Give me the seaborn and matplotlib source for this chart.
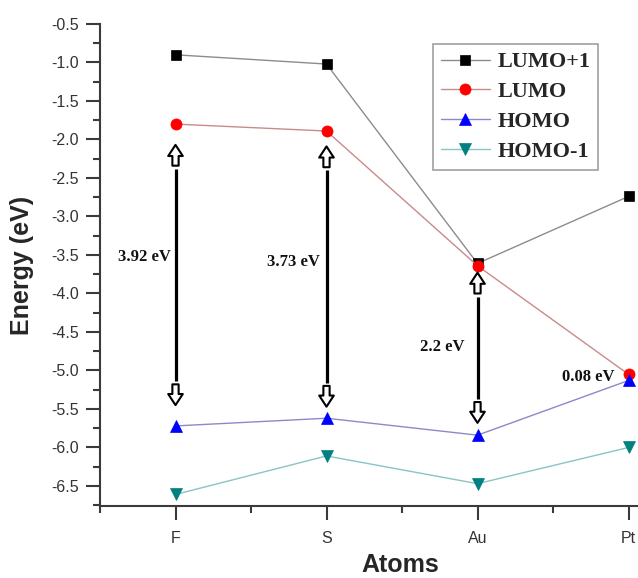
import numpy as np
import pandas as pd
import matplotlib
matplotlib.use("Agg")
import matplotlib.pyplot as plt
from matplotlib.ticker import MultipleLocator
import seaborn as sns

# ---- data ----
atoms = ["F", "S", "Au", "Pt"]
lumo_plus1 = [-0.90, -1.02, -3.61, -2.74]
lumo = [-1.80, -1.89, -3.64, -5.05]
homo = [-5.72, -5.62, -5.84, -5.13]
homo_minus1 = [-6.61, -6.11, -6.47, -6.00]
gap_labels = ["3.92 eV", "3.73 eV", "2.2 eV", "0.08 eV"]
gap_label_y = [-3.53, -3.59, -4.69, -5.08]
arrow_atoms = ["F", "S", "Au"]
arrow_up_tips = [-2.07, -2.09, -3.73]
arrow_down_tips = [-5.45, -5.47, -5.68]
y_ticks = [-0.5, -1.0, -1.5, -2.0, -2.5, -3.0, -3.5, -4.0, -4.5, -5.0, -5.5, -6.0, -6.5]

series = [
    ("LUMO+1", lumo_plus1, "s", "#000000", "#8c8c8c", 7),
    ("LUMO", lumo, "o", "#ff0000", "#c98a8a", 8),
    ("HOMO", homo, "^", "#0000ff", "#8a8ac8", 8.5),
    ("HOMO-1", homo_minus1, "v", "#008080", "#8ac4c4", 8.5),
]

sns.set_style("ticks")
plt.rcParams["font.family"] = ["Liberation Sans", "DejaVu Sans"]

fig = plt.figure(figsize=(6.38, 5.78), dpi=100)
ax_left, ax_bottom = 100 / 638, (578 - 506) / 578
ax_w, ax_h = 604 / 638, (506 - 24) / 578
ax = fig.add_axes([ax_left, ax_bottom, ax_w, ax_h])

for name, vals, mk, mcol, lcol, ms in series:
    df = pd.DataFrame({"Atoms": atoms, "Energy": vals})
    sns.lineplot(data=df, x="Atoms", y="Energy", ax=ax, sort=False,
                 color=lcol, lw=1.0, marker=mk, markersize=ms,
                 markerfacecolor=mcol, markeredgecolor=mcol,
                 markeredgewidth=0.5, label=name, zorder=3)

pos = {a: i for i, a in enumerate(atoms)}
head = 0.27
arrow_style = "simple,head_length=0.8,head_width=1.05,tail_width=0.45"
for a, up, dn in zip(arrow_atoms, arrow_up_tips, arrow_down_tips):
    x = pos[a]
    ax.annotate("", xy=(x, up), xytext=(x, up - head),
                arrowprops=dict(arrowstyle=arrow_style, fc="white", ec="black",
                                lw=1.5, shrinkA=0, shrinkB=0, mutation_scale=10),
                zorder=4)
    ax.annotate("", xy=(x, dn), xytext=(x, dn + head),
                arrowprops=dict(arrowstyle=arrow_style, fc="white", ec="black",
                                lw=1.5, shrinkA=0, shrinkB=0, mutation_scale=10),
                zorder=4)
    ax.plot([x, x], [up - head - 0.04, dn + head + 0.04], color="black",
            lw=2.3, solid_capstyle="butt", zorder=4)

label_dx = [-0.03, -0.046, -0.086, -0.093]
for i, (txt, yv) in enumerate(zip(gap_labels, gap_label_y)):
    ax.text(i + label_dx[i], yv, txt, ha="right", va="center",
            fontsize=12, fontweight="bold",
            family=["Liberation Serif", "DejaVu Serif"], color="#111111")

ax.set_xlim(-0.5, 3.5)
ax.set_ylim(-6.76, -0.5)
ax.set_yticks(y_ticks)
ax.set_yticklabels([f"{v:.1f}" for v in y_ticks])
ax.yaxis.set_minor_locator(MultipleLocator(0.25))
ax.xaxis.set_minor_locator(MultipleLocator(0.5))

sns.despine(ax=ax, top=True, right=True)
for sp in ["left", "bottom"]:
    ax.spines[sp].set_color("#3a3a3a")
    ax.spines[sp].set_linewidth(1.5)

ax.tick_params(axis="both", which="major", direction="out", length=10,
               width=1.5, color="#3a3a3a", labelsize=11.5, labelcolor="#333333", pad=5)
ax.tick_params(axis="both", which="minor", direction="out", length=5,
               width=1.5, color="#3a3a3a")
ax.tick_params(axis="x", which="major", pad=8)

ax.set_xlabel("Atoms", fontsize=18, fontweight="bold")
ax.set_ylabel("Energy (eV)", fontsize=18, fontweight="bold")
ax.xaxis.set_label_coords(0.497, -0.097)
ax.yaxis.set_label_coords(-0.110, 0.5)

leg = ax.legend(loc="upper left", bbox_to_anchor=(433 / 638, 1 - 44 / 578),
                bbox_transform=fig.transFigure, borderaxespad=0,
                fancybox=False, frameon=True, edgecolor="#a0a0a0",
                framealpha=1, handlelength=2.2, handletextpad=0.35,
                labelspacing=0.42, borderpad=0.35,
                prop={"family": "Liberation Serif", "weight": "bold", "size": 16})
leg.get_frame().set_linewidth(1.2)

fig.savefig("out.png", dpi=100)
